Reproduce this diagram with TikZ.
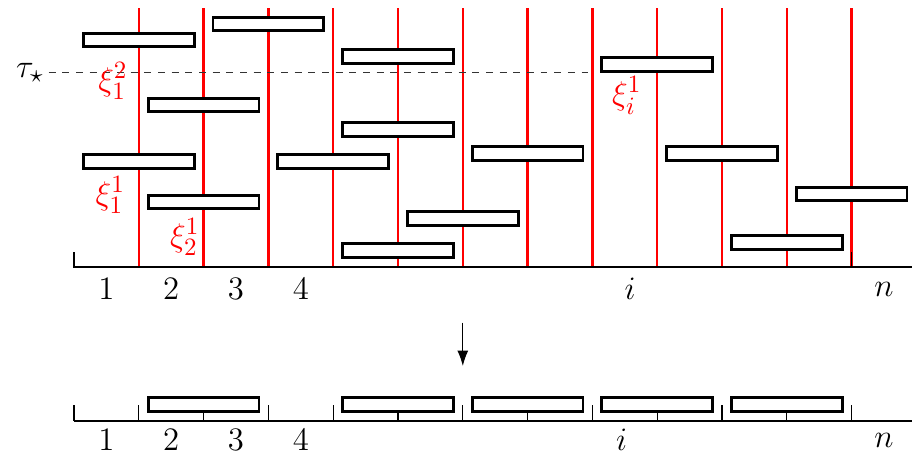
\documentclass[tikz,border=0pt]{standalone}
\usepackage{amsmath, amssymb}
\usepackage{tikz}
\usetikzlibrary{arrows.meta}
\definecolor{col1}{HTML}{FF0000}
\definecolor{col0}{HTML}{000000}

\begin{document}
\begin{tikzpicture}[font=\fontsize{15}{18}\selectfont]
    \tikzstyle{blk} += [draw=black, rectangle, fill=white, line width=1.3pt, inner sep=0pt, minimum width=1.71cm, minimum height=0.21cm];
    \tikzstyle{xil} += [text=col1, inner sep=0pt];
    \tikzstyle{red} += [col1, line width=1pt];
    \tikzstyle{ax} += [col0, line width=0.6pt];
    \useasboundingbox (-1.142,-2.978) rectangle (12.932,4.12);

    % red separators
    \draw[red] (1,0) -- (1,4);
    \draw[red] (2,0) -- (2,4);
    \draw[red] (3,0) -- (3,4);
    \draw[red] (4,0) -- (4,4);
    \draw[red] (5,0) -- (5,4);
    \draw[red] (6,0) -- (6,4);
    \draw[red] (7,0) -- (7,4);
    \draw[red] (8,0) -- (8,4);
    \draw[red] (9,0) -- (9,4);
    \draw[red] (10,0) -- (10,4);
    \draw[red] (11,0) -- (11,4);
    \draw[red] (12,0) -- (12,4);

    \node (tau) at (-0.68, 3) [inner sep=2pt]{$\tau_\star$};
    \coordinate (t_8) at (8, 3);
    \draw[black!80, line width=0.4pt, dashed] (tau.east) -- (t_8);

    % intervals, top
    \node (b_1)  at ( 1, 3.5)   [blk]{};
    \node (b_2)  at ( 3, 3.75)  [blk]{};
    \node (b_3)  at ( 5, 3.25)  [blk]{};
    \node (b_4)  at ( 2, 2.5)   [blk]{};
    \node (b_5)  at ( 5, 2.125) [blk]{};
    \node (b_6)  at ( 1, 1.625) [blk]{};
    \node (b_7)  at ( 4, 1.625) [blk]{};
    \node (b_8)  at ( 2, 1.0)   [blk]{};
    \node (b_9)  at ( 6, 0.75)  [blk]{};
    \node (b_10) at ( 5, 0.25)  [blk]{};
    \node (b_11) at ( 9, 3.125) [blk]{};
    \node (b_12) at ( 7, 1.75)  [blk]{};
    \node (b_13) at (10, 1.75)  [blk]{};
    \node (b_14) at (12, 1.125) [blk]{};
    \node (b_15) at (11, 0.375) [blk]{};

    \node (xi12) at (0.6, 2.87)  [xil]{$\xi_1^2$};
    \node (xi11) at (0.56, 1.11) [xil]{$\xi_1^1$};
    \node (xi21) at (1.71, 0.46) [xil]{$\xi_2^1$};
    \node (xii1) at (8.53, 2.65) [xil]{$\xi_i^1$};

    % top axis
    \draw[ax] (0,0.23) -- (0,0) -- (12.932,0);
    \draw[ax] (12,0.23) -- (12,0);
    \node (l_1) at (0.5, -0.34) {$1$};
    \node (l_2) at (1.5, -0.34) {$2$};
    \node (l_3) at (2.5, -0.34) {$3$};
    \node (l_4) at (3.5, -0.34) {$4$};
    \node (l_i) at (8.58, -0.34) {$i$};
    \node (l_n) at (12.5, -0.34) {$n$};

    \coordinate (a_1) at (6, -0.86);
    \coordinate (a_2) at (6, -1.53);
    \draw[black, line width=0.6pt, -{Latex[length=2.4mm, width=1.7mm]}] (a_1) -- (a_2);

    % intervals, bottom
    \node (c_1) at ( 2, -2.125) [blk]{};
    \node (c_2) at ( 5, -2.125) [blk]{};
    \node (c_3) at ( 7, -2.125) [blk]{};
    \node (c_4) at ( 9, -2.125) [blk]{};
    \node (c_5) at (11, -2.125) [blk]{};

    % bottom axis
    \draw[ax] (0,-2.375) -- (12.932,-2.375);
    \draw[ax] (0,-2.375) -- (0,-2.125);
    \draw[ax] (1,-2.375) -- (1,-2.125);
    \draw[ax] (3,-2.375) -- (3,-2.125);
    \draw[ax] (4,-2.375) -- (4,-2.125);
    \draw[ax] (6,-2.375) -- (6,-2.125);
    \draw[ax] (8,-2.375) -- (8,-2.125);
    \draw[ax] (10,-2.375) -- (10,-2.125);
    \draw[ax] (12,-2.375) -- (12,-2.125);
    \draw[ax] (2,-2.375) -- (2,-2.25);
    \draw[ax] (5,-2.375) -- (5,-2.25);
    \draw[ax] (7,-2.375) -- (7,-2.25);
    \draw[ax] (9,-2.375) -- (9,-2.25);
    \draw[ax] (11,-2.375) -- (11,-2.25);
    \node (m_1) at (0.5, -2.67) {$1$};
    \node (m_2) at (1.5, -2.67) {$2$};
    \node (m_3) at (2.5, -2.67) {$3$};
    \node (m_4) at (3.5, -2.67) {$4$};
    \node (m_i) at (8.45, -2.67) {$i$};
    \node (m_n) at (12.5, -2.67) {$n$};
\end{tikzpicture}
\end{document}
